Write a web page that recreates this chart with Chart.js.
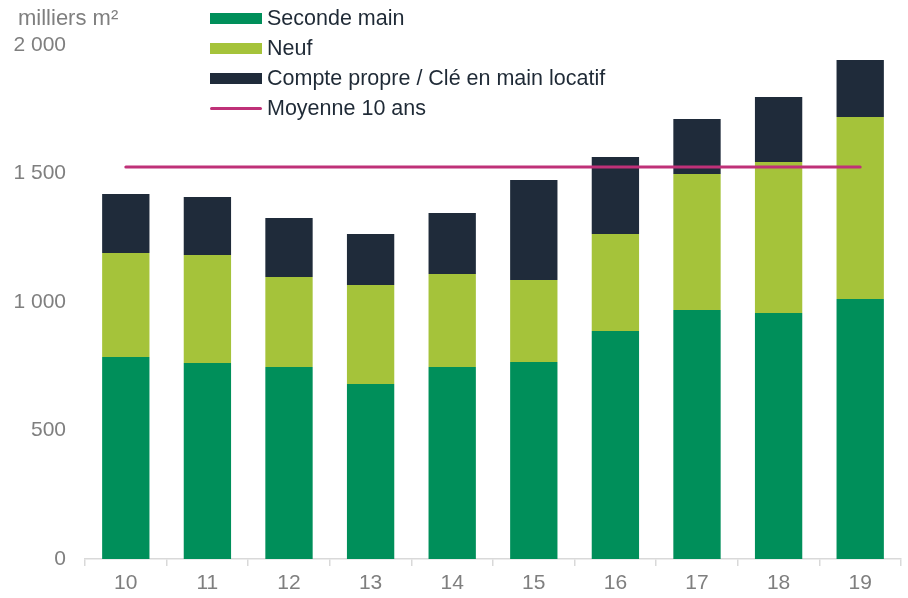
<!DOCTYPE html>
<html>
<head>
<meta charset="utf-8">
<script src="https://cdn.jsdelivr.net/npm/chart.js@4/dist/chart.umd.min.js"></script>
<style>
  body { margin: 0; background: #fff; font-family: "Liberation Sans", Arial, sans-serif; }
  #wrap { position: relative; width: 908px; height: 598px; }
  #unit { position: absolute; left: 18px; top: 5px; font-size: 22px; color: #7f7f7f; }
  #legend { position: absolute; left: 210px; top: 3px; }
  .row { display: flex; align-items: center; height: 30px; font-size: 21.5px; color: #1f2a36; }
  .sw { width: 52px; height: 11px; margin-right: 5px; }
  .ln { width: 52px; height: 3px; margin-right: 5px; border-radius: 2px; }
</style>
</head>
<body>
<div id="wrap">
  <canvas id="chart" width="908" height="598"></canvas>
  <div id="unit">milliers m²</div>
  <div id="legend"></div>
</div>
<script>
const years = ['10', '11', '12', '13', '14', '15', '16', '17', '18', '19']
const secondeMain = [786, 763, 747, 681, 747, 767, 887, 969, 957, 1012]
const neuf = [405, 420, 350, 385, 362, 319, 378, 529, 588, 708]
const comptePropre = [229, 226, 230, 199, 237, 389, 299, 214, 253, 222]
const moyenne = [1525, 1525, 1525, 1525, 1525, 1525, 1525, 1525, 1525, 1525]

const colors = {
    seconde: '#008f5a',
    neuf: '#a5c33a',
    compte: '#1f2b3a',
    moyenne: '#bf3178'
}

// html legend
const legendItems = [
    { label: 'Seconde main', color: colors.seconde, line: false },
    { label: 'Neuf', color: colors.neuf, line: false },
    { label: 'Compte propre / Clé en main locatif', color: colors.compte, line: false },
    { label: 'Moyenne 10 ans', color: colors.moyenne, line: true }
]
const legendEl = document.getElementById('legend')
legendItems.forEach(it => {
    const row = document.createElement('div')
    row.className = 'row'
    const sw = document.createElement('div')
    sw.className = it.line ? 'ln' : 'sw'
    sw.style.background = it.color
    const txt = document.createElement('span')
    txt.textContent = it.label
    row.appendChild(sw)
    row.appendChild(txt)
    legendEl.appendChild(row)
})

Chart.defaults.font.family = '"Liberation Sans", Arial, sans-serif'
Chart.defaults.font.size = 21
Chart.defaults.color = '#7f7f7f'

const barOpts = { barPercentage: 0.58, categoryPercentage: 1.0, borderWidth: 0, order: 2 }

const data = {
    labels: years,
    datasets: [
        { label: 'Moyenne 10 ans', type: 'line', data: moyenne, borderColor: colors.moyenne,
          borderWidth: 3, pointRadius: 0, fill: false, order: 1, stack: 'avg', borderCapStyle: 'round' },
        { label: 'Seconde main', data: secondeMain, backgroundColor: colors.seconde, stack: 's', ...barOpts },
        { label: 'Neuf', data: neuf, backgroundColor: colors.neuf, stack: 's', ...barOpts },
        { label: 'Compte propre / Clé en main locatif', data: comptePropre, backgroundColor: colors.compte, stack: 's', ...barOpts }
    ]
}

const config = {
    type: 'bar',
    data: data,
    options: {
        responsive: false,
        animation: false,
        layout: { padding: { top: 45, right: 7, left: 0, bottom: 0 } },
        plugins: { legend: { display: false }, tooltip: { enabled: false } },
        scales: {
            x: {
                stacked: true,
                grid: { offset: true, drawOnChartArea: false, color: '#d9d9d9', tickLength: 7, lineWidth: 1.5 },
                border: { color: '#d9d9d9', width: 1.5 },
                ticks: { padding: 5, color: '#7f7f7f', font: { size: 21 } },
                afterFit: s => { s.height = 39 }
            },
            y: {
                stacked: true,
                min: 0,
                max: 2000,
                grid: { display: false },
                border: { display: false },
                ticks: {
                    stepSize: 500,
                    padding: 11,
                    color: '#7f7f7f',
                    font: { size: 21 },
                    callback: v => v >= 1000 ? Math.floor(v / 1000) + ' ' + String(v % 1000).padStart(3, '0') : String(v)
                },
                afterFit: s => { s.width = 85 }
            }
        }
    }
}

new Chart(document.getElementById('chart'), config)
</script>
</body>
</html>
